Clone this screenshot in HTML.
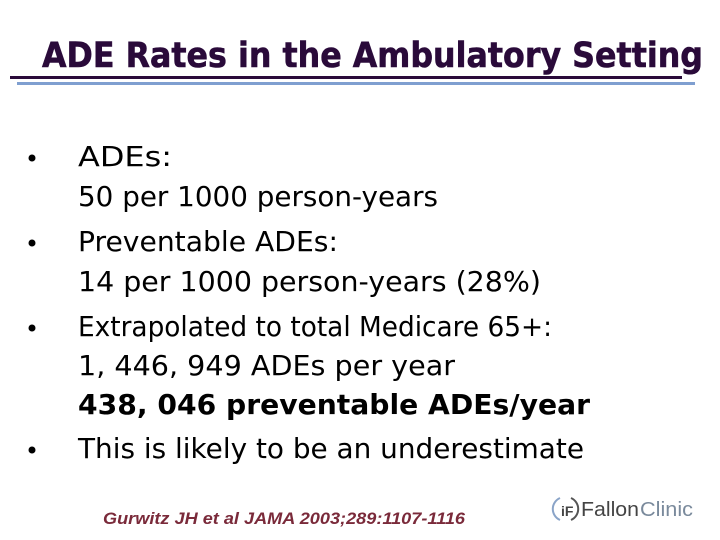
<!DOCTYPE html>
<html><head><meta charset="utf-8"><style>
html,body{margin:0;padding:0;background:#fff;width:720px;height:540px;overflow:hidden}
svg{display:block}
</style></head><body>
<svg width="720" height="540" viewBox="0 0 720 540" font-family="'DejaVu Sans', Verdana, sans-serif">
<text x="42" y="67" font-size="35" font-weight="bold" fill="#2a0a3a" stroke="#2a0a3a" stroke-width="0.6" textLength="661" lengthAdjust="spacingAndGlyphs">ADE Rates in the Ambulatory Setting</text>
<rect x="10" y="76" width="672" height="3" fill="#2a0a3a"/>
<rect x="17" y="82" width="678" height="3" fill="#7f9fd0"/>
<g font-size="28" fill="#000">
<circle cx="32" cy="158" r="3.5"/>
<text x="78" y="166" textLength="94" lengthAdjust="spacingAndGlyphs">ADEs:</text>
<text x="78" y="206" textLength="360" lengthAdjust="spacingAndGlyphs">50 per 1000 person-years</text>
<circle cx="32" cy="243" r="3.5"/>
<text x="78" y="251" textLength="260" lengthAdjust="spacingAndGlyphs">Preventable ADEs:</text>
<text x="78" y="291" textLength="463" lengthAdjust="spacingAndGlyphs">14 per 1000 person-years (28%)</text>
<circle cx="32" cy="328" r="3.5"/>
<text x="78" y="336" textLength="474" lengthAdjust="spacingAndGlyphs">Extrapolated to total Medicare 65+:</text>
<text x="78" y="375" textLength="377" lengthAdjust="spacingAndGlyphs">1, 446, 949 ADEs per year</text>
<text x="78" y="414" font-weight="bold" textLength="512" lengthAdjust="spacingAndGlyphs">438, 046 preventable ADEs/year</text>
<circle cx="32" cy="450" r="3.5"/>
<text x="78" y="458" textLength="506" lengthAdjust="spacingAndGlyphs">This is likely to be an underestimate</text>
</g>
<text x="103" y="524" font-family="'Liberation Sans', Arial, sans-serif" font-size="17" font-style="italic" font-weight="bold" fill="#7a2a3a" textLength="362" lengthAdjust="spacingAndGlyphs">Gurwitz JH et al JAMA 2003;289:1107-1116</text>
<g>
<path d="M560 498 A12 12 0 0 0 560 520" fill="none" stroke="#8aa4c8" stroke-width="2"/>
<path d="M571 498 A12 12 0 0 1 571 520" fill="none" stroke="#555" stroke-width="2"/>
<text x="561" y="516" font-family="'Liberation Sans', Arial, sans-serif" font-size="14" font-weight="bold" fill="#444">iF</text>
<text x="581" y="516" font-family="'Liberation Sans', Arial, sans-serif" font-size="20" fill="#444" textLength="58" lengthAdjust="spacingAndGlyphs">Fallon</text>
<text x="640" y="516" font-family="'Liberation Sans', Arial, sans-serif" font-size="20" fill="#7a8a9c" textLength="53" lengthAdjust="spacingAndGlyphs">Clinic</text>
</g>
</svg>
</body></html>
